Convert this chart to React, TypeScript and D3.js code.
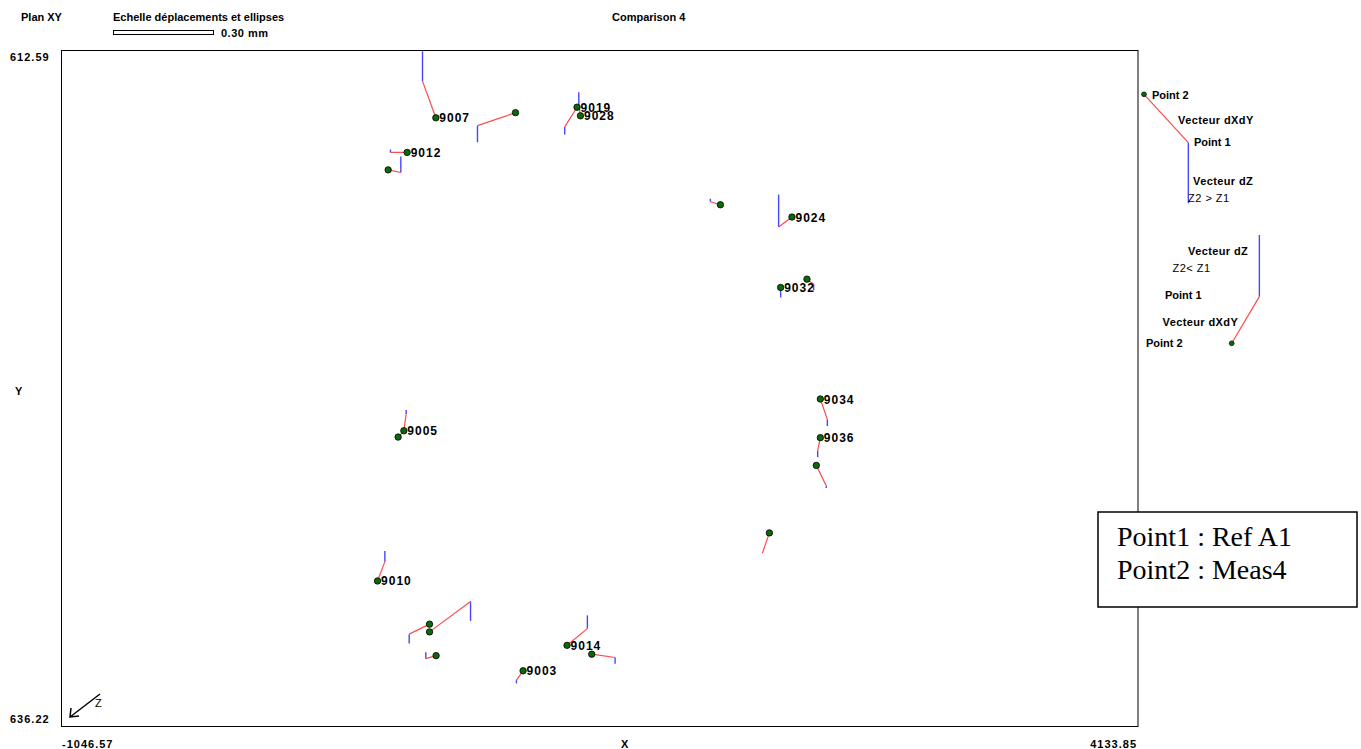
import React from "react";
import * as d3 from "d3";

// ---- data ----
const xDomain = [-1046.57, 4133.85];
const yDomain = [612.59, 636.22];
const scaleMm = 0.3; // scale bar value in mm

// point name ("" = unlabeled), position X, Y, displacement dX, dY, dZ (mm)
const pointNames = ["9007", "", "9019", "9028", "9012", "", "", "9024", "9032", "", "9034", "9036", "", "", "9005", "", "9010", "", "", "", "9014", "", "9003"];
const pointX = [757.2, 1140.5, 1436.8, 1453.2, 619.1, 527.8, 2126.6, 2471.0, 2416.6, 2543.2, 2607.6, 2607.6, 2588.3, 2362.3, 603.3, 575.8, 476.7, 726.9, 726.9, 758.6, 1388.7, 1507.5, 1177.1];
const pointY = [614.96, 614.78, 614.59, 614.89, 616.17, 616.78, 618.0, 618.43, 620.89, 620.6, 624.79, 626.14, 627.11, 629.47, 625.9, 626.12, 631.15, 632.66, 632.93, 633.76, 633.4, 633.71, 634.29];
const dXs = [0.04, 0.114, 0.037, 0.005, 0.05, -0.038, 0.03, 0.04, 0.0, -0.02, -0.021, 0.008, -0.03, 0.021, -0.007, -0.017, -0.022, 0.061, -0.123, 0.031, -0.061, -0.07, 0.02];
const dYs = [-0.11, 0.039, 0.059, -0.035, 0.0, 0.008, -0.009, 0.03, 0.0, 0.015, 0.061, 0.039, 0.062, 0.061, -0.05, -0.018, -0.058, 0.03, -0.091, 0.009, -0.05, 0.01, 0.028];
const dZs = [-0.09, 0.05, 0.023, -0.036, -0.009, -0.048, -0.009, -0.098, 0.03, 0.018, 0.02, 0.02, 0.006, 0.0, -0.012, 0.0, -0.032, 0.028, 0.058, -0.019, -0.04, 0.019, 0.01];

// legend examples: displacement in mm
const legendUp = { dX: -0.133, dY: 0.145, dZ: 0.182 };
const legendDown = { dX: -0.083, dY: -0.14, dZ: -0.185 };

const F = "'Liberation Sans', Arial, sans-serif";
const RED = "#ff4a4a";
const BLUE = "#4646ff";

const frame = { left: 61, top: 50, right: 1137.5, bottom: 726 };

export default function App() {
  const x = d3.scaleLinear().domain(xDomain).range([frame.left, frame.right]);
  const y = d3.scaleLinear().domain(yDomain).range([frame.top, frame.bottom]);
  const k = d3.scaleLinear().domain([0, scaleMm]).range([0, 100]);

  const vec = (px: number, py: number, dX: number, dY: number, dZ: number) => {
    // P2 is the dot; P1 = P2 - displacement
    const p1x = px - k(dX);
    const p1y = py + k(dY);
    const bz = p1y + k(dZ);
    return { p1x, p1y, bz };
  };

  const pts = pointNames.map((n, i) => {
    const px = x(pointX[i]);
    const py = y(pointY[i]);
    return { n, px, py, ...vec(px, py, dXs[i], dYs[i], dZs[i]) };
  });

  const lg1 = { px: 1144, py: 94.3 };
  const l1 = vec(lg1.px, lg1.py, legendUp.dX, legendUp.dY, legendUp.dZ);
  const lg2 = { px: 1231.7, py: 343.3 };
  const l2 = vec(lg2.px, lg2.py, legendDown.dX, legendDown.dY, legendDown.dZ);

  const txt = { fontFamily: F, fontSize: 11, fontWeight: 700 as const, fill: "#000" };
  const num = { ...txt, letterSpacing: 1 };

  return (
    <svg width={1361} height={749} style={{ position: "absolute", left: 0, top: 0, background: "#fff" }}>
      <rect x={0} y={0} width={1361} height={749} fill="#fff" />
      {/* header */}
      <text x={21} y={21} {...txt}>Plan XY</text>
      <text x={113} y={21} {...txt}>Echelle déplacements et ellipses</text>
      <rect x={113.5} y={30.5} width={k(scaleMm)} height={4} fill="none" stroke="#000" strokeWidth={1} />
      <text x={221} y={37} {...txt} letterSpacing={0.5}>0.30 mm</text>
      <text x={612} y={21} {...txt}>Comparison 4</text>

      {/* frame */}
      <rect x={frame.left + 0.5} y={frame.top + 0.5} width={frame.right - frame.left} height={frame.bottom - frame.top} fill="none" stroke="#000" strokeWidth={1} />

      {/* axis labels */}
      <text x={10} y={61} {...num}>{yDomain[0].toFixed(2)}</text>
      <text x={10} y={723} {...num}>{yDomain[1].toFixed(2)}</text>
      <text x={62} y={748} {...num}>{xDomain[0].toFixed(2)}</text>
      <text x={1137} y={748} {...num} textAnchor="end">{xDomain[1].toFixed(2)}</text>
      <text x={621} y={748} {...txt}>X</text>
      <text x={15} y={395} {...txt}>Y</text>

      {/* Z arrow */}
      <g stroke="#000" strokeWidth={1.5} fill="none">
        <line x1={100} y1={694} x2={70} y2={717} />
        <polyline points="71,708 70,717 79,716" />
      </g>
      <text x={95} y={707} fontFamily={F} fontSize={11} fill="#000">Z</text>

      {/* vectors */}
      <defs>
        <clipPath id="plotClip">
          <rect x={frame.left + 1} y={frame.top + 1} width={frame.right - frame.left - 1} height={frame.bottom - frame.top - 1} />
        </clipPath>
      </defs>
      <g clipPath="url(#plotClip)">
        {pts.map((p, i) => (
          <g key={i}>
            <line x1={p.p1x} y1={p.p1y} x2={p.p1x} y2={p.bz} stroke={BLUE} strokeWidth={1.4} />
            <line x1={p.px} y1={p.py} x2={p.p1x} y2={p.p1y} stroke={RED} strokeWidth={1.2} />
          </g>
        ))}
        {pts.map((p, i) => (
          <g key={"d" + i}>
            <circle cx={p.px} cy={p.py} r={3.2} fill="#0a6a0a" stroke="#000" strokeWidth={0.8} />
            {p.n && (
              <text x={p.px + 3.5} y={p.py + 4.5} fontFamily={F} fontSize={12} fontWeight={700} letterSpacing={1} fill="#000">{p.n}</text>
            )}
          </g>
        ))}
      </g>

      {/* legend */}
      <line x1={lg1.px} y1={lg1.py} x2={l1.p1x} y2={l1.p1y} stroke={RED} strokeWidth={1.2} />
      <line x1={l1.p1x} y1={l1.p1y} x2={l1.p1x} y2={l1.bz} stroke={BLUE} strokeWidth={1.4} />
      <circle cx={lg1.px} cy={lg1.py} r={2.4} fill="#0a6a0a" stroke="#000" strokeWidth={0.7} />
      <text x={1152} y={98.5} {...txt}>Point 2</text>
      <text x={1178} y={124} {...txt} letterSpacing={0.4}>Vecteur dXdY</text>
      <text x={1194} y={146} {...txt}>Point 1</text>
      <text x={1193} y={185} {...txt} letterSpacing={0.4}>Vecteur dZ</text>
      <text x={1188} y={202} {...txt} fontWeight={400} letterSpacing={0.5}>Z2 &gt; Z1</text>

      <line x1={lg2.px} y1={lg2.py} x2={l2.p1x} y2={l2.p1y} stroke={RED} strokeWidth={1.2} />
      <line x1={l2.p1x} y1={l2.p1y} x2={l2.p1x} y2={l2.bz} stroke={BLUE} strokeWidth={1.4} />
      <circle cx={lg2.px} cy={lg2.py} r={2.4} fill="#0a6a0a" stroke="#000" strokeWidth={0.7} />
      <text x={1188} y={255} {...txt} letterSpacing={0.4}>Vecteur dZ</text>
      <text x={1172.5} y={272} {...txt} fontWeight={400} letterSpacing={0.5}>Z2&lt; Z1</text>
      <text x={1165} y={299} {...txt}>Point 1</text>
      <text x={1162.5} y={326} {...txt} letterSpacing={0.4}>Vecteur dXdY</text>
      <text x={1146} y={347} {...txt}>Point 2</text>

      {/* info box */}
      <rect x={1098} y={512} width={259} height={95} fill="#fff" stroke="#000" strokeWidth={1.5} />
      <text x={1117} y={545.5} fontFamily="'Liberation Serif', 'Times New Roman', serif" fontSize={28} fill="#000">Point1 : Ref A1</text>
      <text x={1117} y={578.5} fontFamily="'Liberation Serif', 'Times New Roman', serif" fontSize={28} fill="#000">Point2 : Meas4</text>
    </svg>
  );
}
